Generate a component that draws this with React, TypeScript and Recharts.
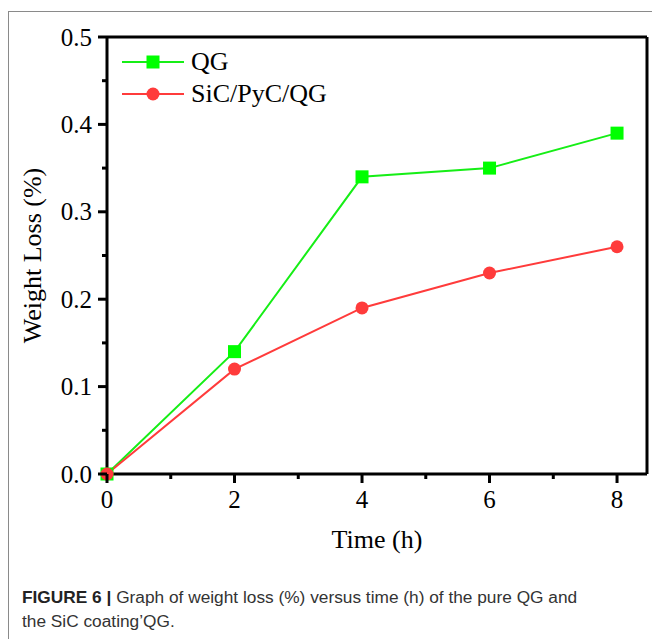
import React from 'react';
import { LineChart, Line, XAxis, YAxis, Legend, ReferenceLine } from 'recharts';

const timeHours = [0, 2, 4, 6, 8];
const qgLoss = [0, 0.14, 0.34, 0.35, 0.39];
const sicLoss = [0, 0.12, 0.19, 0.23, 0.26];
const xTicks = [0, 1, 2, 3, 4, 5, 6, 7, 8];
const yTicks = [0, 0.05, 0.1, 0.15, 0.2, 0.25, 0.3, 0.35, 0.4, 0.45, 0.5];
const seriesNames = ['QG', 'SiC/PyC/QG'];
const xMax = 8.47;
const yMax = 0.5;

const data = timeHours.map((t, i) => ({ t, qg: qgLoss[i], sic: sicLoss[i] }));

const GREEN = '#16ee16';
const GREEN_MARK = '#00ff00';
const RED = '#ff3b3b';
const SERIF = '"Liberation Serif", "Times New Roman", serif';

const XTick = (props: any) => {
  const { x, y, payload } = props;
  const v = payload.value;
  const major = v % 2 === 0;
  return (
    <g>
      <line x1={x} y1={y} x2={x} y2={y + (major ? 9 : 5)} stroke="#000" strokeWidth={3} />
      {major && (
        <text x={x} y={y + 34} textAnchor="middle" fontFamily={SERIF} fontSize={25} fill="#000">
          {v}
        </text>
      )}
    </g>
  );
};

const YTick = (props: any) => {
  const { x, y, payload } = props;
  const v = payload.value;
  const major = Math.round(v * 100) % 10 === 0;
  return (
    <g>
      <line x1={x} y1={y} x2={x - (major ? 9 : 5)} y2={y} stroke="#000" strokeWidth={3} />
      {major && (
        <text x={x - 15} y={y + 8.5} textAnchor="end" fontFamily={SERIF} fontSize={25} fill="#000">
          {v.toFixed(1)}
        </text>
      )}
    </g>
  );
};

const SquareDot = (props: any) => {
  const { cx, cy } = props;
  if (cx == null || cy == null) return null;
  return <rect x={cx - 6.5} y={cy - 6.5} width={13} height={13} fill={GREEN_MARK} />;
};

const CircleDot = (props: any) => {
  const { cx, cy } = props;
  if (cx == null || cy == null) return null;
  return <circle cx={cx} cy={cy} r={6.5} fill={RED} />;
};

const renderXLabel = (props: any) => {
  const vb = props.viewBox;
  return (
    <text x={vb.x + vb.width / 2} y={vb.y + 74} textAnchor="middle" fontFamily={SERIF} fontSize={26} fill="#000">
      Time (h)
    </text>
  );
};

const renderYLabel = (props: any) => {
  const vb = props.viewBox;
  const cx = vb.x - 6;
  const cy = vb.y + vb.height / 2;
  return (
    <text
      x={cx}
      y={cy}
      transform={`rotate(-90 ${cx} ${cy})`}
      textAnchor="middle"
      fontFamily={SERIF}
      fontSize={26}
      fill="#000"
    >
      Weight Loss (%)
    </text>
  );
};

const renderLegend = () => {
  const rows = [
    { name: seriesNames[0], color: GREEN, shape: 'square' },
    { name: seriesNames[1], color: RED, shape: 'circle' },
  ];
  return (
    <div>
      {rows.map((r) => (
        <div key={r.name} style={{ display: 'flex', alignItems: 'center', height: 32 }}>
          <svg width={62} height={20} style={{ display: 'block' }}>
            <line x1={0} y1={10} x2={62} y2={10} stroke={r.color} strokeWidth={2} />
            {r.shape === 'square' ? (
              <rect x={24.5} y={3.5} width={13} height={13} fill={GREEN_MARK} />
            ) : (
              <circle cx={31} cy={10} r={6.5} fill={RED} />
            )}
          </svg>
          <span style={{ marginLeft: 7, fontFamily: SERIF, fontSize: 26, color: '#000', lineHeight: '32px' }}>
            {r.name}
          </span>
        </div>
      ))}
    </div>
  );
};

export default function App() {
  return (
    <div style={{ position: 'absolute', left: 0, top: 0, width: 652, height: 639, background: '#fff' }}>
      <div
        style={{
          position: 'absolute',
          left: 8,
          top: 11,
          width: 644,
          height: 628,
          borderTop: '1px solid #8a8a8a',
          borderLeft: '1px solid #8a8a8a',
          boxSizing: 'border-box',
        }}
      />
      <div style={{ position: 'absolute', left: 0, top: 0 }}>
        <LineChart width={652} height={560} data={data} margin={{ top: 37, right: 5, left: 47, bottom: 0 }}>
          <XAxis
            dataKey="t"
            type="number"
            domain={[0, xMax]}
            ticks={xTicks}
            interval={0}
            height={86}
            axisLine={{ stroke: '#000', strokeWidth: 3 }}
            tickLine={false}
            tickSize={0}
            tickMargin={0}
            tick={<XTick />}
            label={renderXLabel}
          />
          <YAxis
            type="number"
            domain={[0, yMax]}
            ticks={yTicks}
            interval={0}
            width={60}
            axisLine={{ stroke: '#000', strokeWidth: 3 }}
            tickLine={false}
            tickSize={0}
            tickMargin={0}
            tick={<YTick />}
            label={renderYLabel}
          />
          <ReferenceLine y={yMax} stroke="#000" strokeWidth={3} ifOverflow="extendDomain" />
          <ReferenceLine x={xMax} stroke="#000" strokeWidth={3} ifOverflow="extendDomain" />
          <Legend
            content={renderLegend}
            layout="horizontal"
            align="center"
            verticalAlign="middle"
            wrapperStyle={{ position: 'absolute', left: 122, top: 46, width: 260, height: 64 }}
          />
          <Line
            type="linear"
            dataKey="qg"
            name={seriesNames[0]}
            stroke={GREEN}
            strokeWidth={2}
            dot={<SquareDot />}
            activeDot={false}
            isAnimationActive={false}
          />
          <Line
            type="linear"
            dataKey="sic"
            name={seriesNames[1]}
            stroke={RED}
            strokeWidth={2}
            dot={<CircleDot />}
            activeDot={false}
            isAnimationActive={false}
          />
        </LineChart>
      </div>
      <div
        style={{
          position: 'absolute',
          left: 22,
          top: 585,
          width: 625,
          fontFamily: '"Liberation Sans", Arial, sans-serif',
          fontSize: 17.3,
          lineHeight: '24px',
          color: '#333',
          whiteSpace: 'nowrap',
        }}
      >
        <span style={{ fontWeight: 'bold', color: '#222' }}>FIGURE 6 |</span> Graph of weight loss (%) versus time (h) of the pure QG and
        <br />
        the SiC coating’QG.
      </div>
    </div>
  );
}
